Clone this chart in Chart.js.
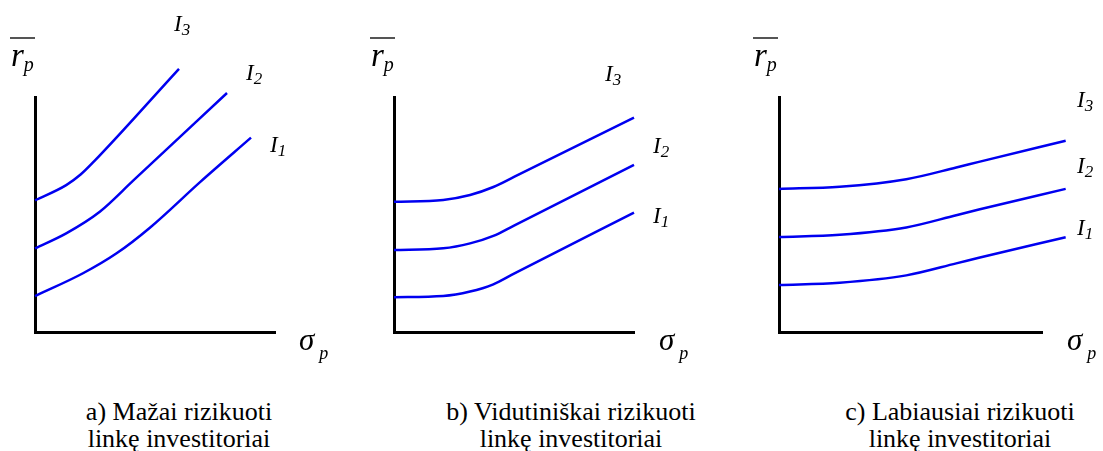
<!DOCTYPE html>
<html>
<head>
<meta charset="utf-8">
<script src="https://cdn.jsdelivr.net/npm/chart.js@4.4.1/dist/chart.umd.min.js"></script>
<style>
  body{margin:0;background:#fff;}
  #wrap{position:relative;width:1103px;height:451px;overflow:hidden;background:#fff;color:#000;
        font-family:"Liberation Serif","Times New Roman",Times,"DejaVu Serif",serif;}
  #wrap canvas{position:absolute;top:0;}
  .t{position:absolute;line-height:1;white-space:nowrap;font-style:italic;}
  .sub{position:relative;}
  .bar{position:absolute;height:2px;background:#555;}
  .cap{position:absolute;width:300px;text-align:center;font-size:26px;line-height:27px;}
</style>
</head>
<body>
<div id="wrap">
  <canvas id="ch-a" width="360" height="360" style="left:0px"></canvas>
  <canvas id="ch-b" width="360" height="360" style="left:360px"></canvas>
  <canvas id="ch-c" width="363" height="360" style="left:740px"></canvas>
</div>

<script>
// curve values, axis units 0..10 on both axes (curves may run past the axis ends)
// a) low risk appetite - steep curves
const aX1=[0,2.0,3.4,4.8,6.9,9.0],  aY1=[1.53,2.5,3.35,4.45,6.4,8.27];
const aX2=[0,1.3,2.7,4.1,8.0],      aY2=[3.56,4.2,5.12,6.45,10.17];
const aX3=[0,1.3,1.9,2.45,6.0],     aY3=[5.6,6.25,6.7,7.25,11.2];
// b) medium
const bX=[0,2.05,3.17,4.14,5.0,10];
const bY1=[1.48,1.53,1.72,2.03,2.48,5.08];
const bY2=[3.49,3.56,3.77,4.09,4.53,7.11];
const bY3=[5.54,5.62,5.83,6.17,6.6,9.12];
// c) high risk appetite - flat curves
const cX=[0,2.31,4.84,6.74,7.6,10.9];
const cY1=[2.0,2.1,2.41,2.92,3.16,4.03];
const cY2=[4.04,4.14,4.45,4.97,5.21,6.09];
const cY3=[6.09,6.18,6.5,7.0,7.24,8.14];

const curveNames=['I1','I2','I3'];
const captionTop=['a) Mažai rizikuoti','b) Vidutiniškai rizikuoti','c) Labiausiai rizikuoti'];
const captionBottom='linkę investitoriai';

const pts=(xs,ys)=>xs.map((x,i)=>({x:x,y:ys[i]}));

function makePanel(id,curves,pad){
  const ctx=document.getElementById(id).getContext('2d');
  const axis=()=>({type:'linear',min:0,max:10,
    ticks:{display:false},grid:{display:false,drawTicks:false},
    border:{display:true,color:'#000',width:3}});
  return new Chart(ctx,{type:'line',
    data:{datasets:curves.map((c,i)=>({label:curveNames[i],data:pts(c[0],c[1]),
      borderColor:'#0000f0',borderWidth:2.5,pointRadius:0,fill:false,clip:false,
      cubicInterpolationMode:'monotone'}))},
    options:{responsive:false,animation:false,devicePixelRatio:1,
      layout:{padding:pad},
      plugins:{legend:{display:false},tooltip:{enabled:false}},
      scales:{x:axis(),y:axis()}}
  });
}

makePanel('ch-a',[[aX1,aY1],[aX2,aY2],[aX3,aY3]],{left:35,top:97,right:85,bottom:28});
makePanel('ch-b',[[bX,bY1],[bX,bY2],[bX,bY3]],{left:34,top:97,right:86,bottom:28});
makePanel('ch-c',[[cX,cY1],[cX,cY2],[cX,cY3]],{left:39,top:97,right:61,bottom:28});

// text labels, placed by baseline
const wrap=document.getElementById('wrap');
function addText(html,x,base,size){
  const s=document.createElement('span');
  s.className='t';
  s.style.fontSize=size+'px';
  s.style.left=x+'px';
  s.style.top=(base-0.8375*size)+'px';
  s.innerHTML=html;
  wrap.appendChild(s);
}
const sub=(txt,size,dy,dx)=>`<span class="sub" style="font-size:${size}px;top:${dy}px;margin-left:${dx||0}px">${txt}</span>`;

// curve names I1..I3 per panel [x, baseline]
const namePos=[
  [[270,152],[246,80],[174,31]],
  [[653,223],[653,153],[605,81]],
  [[1077,235],[1077,173],[1077,107]]
];
namePos.forEach(p=>p.forEach((xy,i)=>{
  const n=curveNames[i];
  addText(n[0]+sub(n[1],17,4),xy[0],xy[1],23);
}));

// axis titles
[0,360,743].forEach(off=>{
  const b=document.createElement('div');
  b.className='bar';b.style.left=(10+off)+'px';b.style.top='37px';b.style.width='25px';
  wrap.appendChild(b);
  addText('r'+sub('p',20,5),11+off,67,33);
});
[299,659,1067].forEach(x=>addText('σ'+sub('p',18,9,5),x,350,31));

// captions
[179,571,960].forEach((cx,i)=>{
  const d=document.createElement('div');
  d.className='cap';
  d.style.left=(cx-150)+'px';
  d.style.top='398px';
  d.innerHTML=captionTop[i]+'<br>'+captionBottom;
  wrap.appendChild(d);
});
</script>
</body>
</html>
